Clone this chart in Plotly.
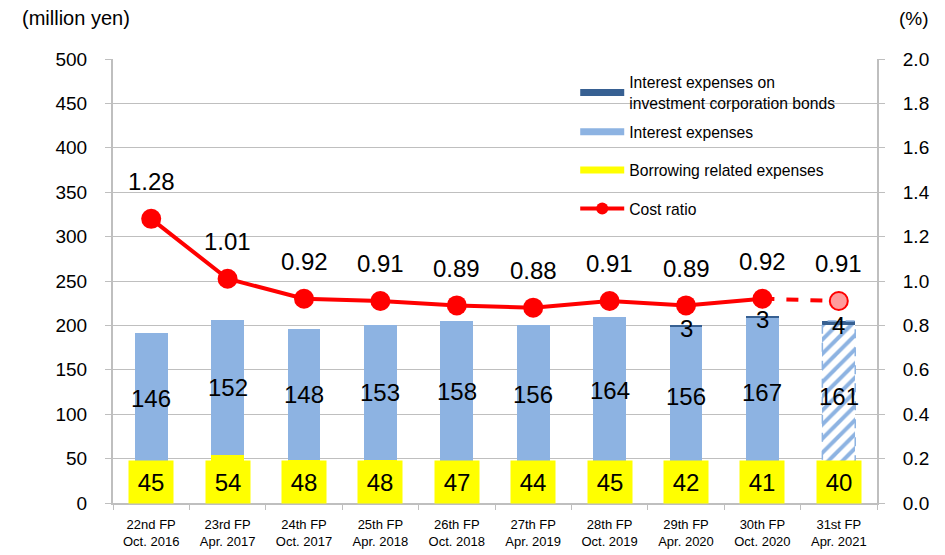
import plotly.graph_objects as go

# Fiscal periods
periods = ["22nd FP<br>Oct. 2016", "23rd FP<br>Apr. 2017", "24th FP<br>Oct. 2017",
           "25th FP<br>Apr. 2018", "26th FP<br>Oct. 2018", "27th FP<br>Apr. 2019",
           "28th FP<br>Oct. 2019", "29th FP<br>Apr. 2020", "30th FP<br>Oct. 2020",
           "31st FP<br>Apr. 2021"]

# Expenses (million yen)
borrowing = [45, 54, 48, 48, 47, 44, 45, 42, 41, 40]
interest = [146, 152, 148, 153, 158, 156, 164, 156, 167, 161]
bonds = [0, 0, 0, 0, 0, 0, 0, 3, 3, 4]

# Cost ratio (%)
cost_ratio = [1.28, 1.01, 0.92, 0.91, 0.89, 0.88, 0.91, 0.89, 0.92, 0.91]

FONT = "Liberation Sans, Arial, sans-serif"
YELLOW = "#FFFF00"
LIGHT_BLUE = "#8DB3E2"
DARK_BLUE = "#376092"
RED = "#FF0000"
GRID = "#BFBFBF"
BAR_GAP = 0.57

n = len(periods)
forecast = n - 1  # last period is a forecast

fig = go.Figure()

# Stacked bars
fig.add_trace(go.Bar(x=periods, y=borrowing, marker=dict(color=YELLOW, line=dict(width=0)),
                     showlegend=False, hoverinfo="skip"))
int_patterns = [""] * (n - 1) + ["/"]
fig.add_trace(go.Bar(x=periods, y=interest,
                     marker=dict(color=LIGHT_BLUE, line=dict(width=0),
                                 pattern=dict(shape=int_patterns, fgcolor=LIGHT_BLUE,
                                              bgcolor="white", size=10, solidity=0.4,
                                              fillmode="replace")),
                     showlegend=False, hoverinfo="skip"))
fig.add_trace(go.Bar(x=periods, y=bonds, marker=dict(color=DARK_BLUE, line=dict(width=0)),
                     showlegend=False, hoverinfo="skip"))

# Dashed outline around the forecast bar
half = (1 - BAR_GAP) / 2
fig.add_shape(type="rect", xref="x", yref="y",
              x0=forecast - half, x1=forecast + half,
              y0=borrowing[forecast], y1=borrowing[forecast] + interest[forecast] + bonds[forecast],
              line=dict(color=LIGHT_BLUE, width=1.5, dash="dash"), fillcolor="rgba(0,0,0,0)")

# Cost ratio line: actual (solid) and forecast (dashed)
fig.add_trace(go.Scatter(x=periods[:forecast], y=cost_ratio[:forecast], yaxis="y2",
                         mode="lines+markers", line=dict(color=RED, width=4),
                         marker=dict(size=20, color=RED), showlegend=False, hoverinfo="skip"))
fig.add_trace(go.Scatter(x=periods[forecast - 1:], y=cost_ratio[forecast - 1:], yaxis="y2",
                         mode="lines", line=dict(color=RED, width=4, dash="dash"),
                         showlegend=False, hoverinfo="skip"))
fig.add_trace(go.Scatter(x=[periods[forecast]], y=[cost_ratio[forecast]], yaxis="y2",
                         mode="markers", marker=dict(size=18, color="#FF9C9C", symbol="circle",
                                                     line=dict(color=RED, width=2)),
                         showlegend=False, hoverinfo="skip"))

# Legend entries
legend_items = [
    ("Interest expenses on<br>investment corporation bonds", DARK_BLUE, "lines", "legend2"),
    ("Interest expenses", LIGHT_BLUE, "lines", "legend"),
    ("Borrowing related expenses", YELLOW, "lines", "legend"),
    ("Cost ratio", RED, "lines+markers", "legend"),
]
for rank, (name, color, mode, leg) in enumerate(legend_items):
    fig.add_trace(go.Scatter(x=[None], y=[None], name=name, mode=mode,
                             line=dict(color=color, width=4 if mode != "lines" else 7),
                             marker=dict(size=12, color=color),
                             legendgroup=f"g{rank}", legendrank=rank + 1, legend=leg,
                             yaxis="y2" if mode != "lines" else "y"))

annotations = []
label_font = dict(family=FONT, size=24, color="black")
for i, p in enumerate(periods):
    # Borrowing related expenses label in a yellow box
    annotations.append(dict(x=p, y=0, xref="x", yref="y", text=str(borrowing[i]),
                            showarrow=False, yanchor="bottom", yshift=-1,
                            bgcolor=YELLOW, width=42, height=40, font=label_font))
    # Interest expenses label
    annotations.append(dict(x=p, y=borrowing[i] + interest[i] / 2, xref="x", yref="y",
                            text=str(interest[i]), showarrow=False, font=label_font))
    # Bond interest label
    if bonds[i]:
        annotations.append(dict(x=p, y=borrowing[i] + interest[i] + bonds[i] / 2,
                                xref="x", yref="y", text=str(bonds[i]), showarrow=False,
                                yshift=-3, font=label_font))
    # Cost ratio label
    annotations.append(dict(x=p, y=cost_ratio[i], xref="x", yref="y2",
                            text=f"{cost_ratio[i]:.2f}", showarrow=False, yshift=37,
                            font=label_font))

annotations.append(dict(x=-0.122, y=1.092, xref="paper", yref="paper", text="(million yen)",
                        showarrow=False, xanchor="left", yanchor="middle",
                        font=dict(family=FONT, size=20, color="black")))
annotations.append(dict(x=1.048, y=1.092, xref="paper", yref="paper", text="(%)",
                        showarrow=False, xanchor="center", yanchor="middle",
                        font=dict(family=FONT, size=19, color="black")))

legend_font = dict(family=FONT, size=15.7, color="black")
fig.update_layout(
    width=945, height=555,
    margin=dict(l=113, r=68, t=59, b=52),
    paper_bgcolor="white", plot_bgcolor="white",
    barmode="stack", bargap=BAR_GAP,
    font=dict(family=FONT, color="black"),
    annotations=annotations,
    xaxis=dict(type="category", range=[-0.5, n - 0.5], showgrid=False, showline=True,
               linecolor=GRID, linewidth=1.5, ticks="outside", tickson="boundaries",
               ticklen=5, tickcolor=GRID, ticklabelstandoff=9, automargin=False,
               tickfont=dict(family=FONT, size=13, color="black")),
    yaxis=dict(range=[0, 500], dtick=50, showgrid=True, gridcolor=GRID, gridwidth=1,
               showline=True, linecolor=GRID, linewidth=2, ticks="outside", ticklen=6,
               tickcolor=GRID, ticklabelstandoff=14, zeroline=False, automargin=False,
               tickfont=dict(family=FONT, size=19, color="black")),
    yaxis2=dict(range=[0, 2.0], dtick=0.2, tickformat=".1f", overlaying="y", side="right",
                showgrid=False, showline=True, linecolor=GRID, linewidth=2, ticks="outside",
                ticklen=6, tickcolor=GRID, ticklabelstandoff=14, zeroline=False,
                automargin=False, tickfont=dict(family=FONT, size=19, color="black")),
    legend=dict(x=0.605, y=0.874, xanchor="left", yanchor="top", bgcolor="rgba(0,0,0,0)",
                traceorder="grouped", tracegroupgap=15, itemwidth=44, font=legend_font),
    legend2=dict(x=0.605, y=0.985, xanchor="left", yanchor="top", bgcolor="rgba(0,0,0,0)",
                 itemwidth=44, font=legend_font),
    showlegend=True,
)

fig.write_html("out.html")
